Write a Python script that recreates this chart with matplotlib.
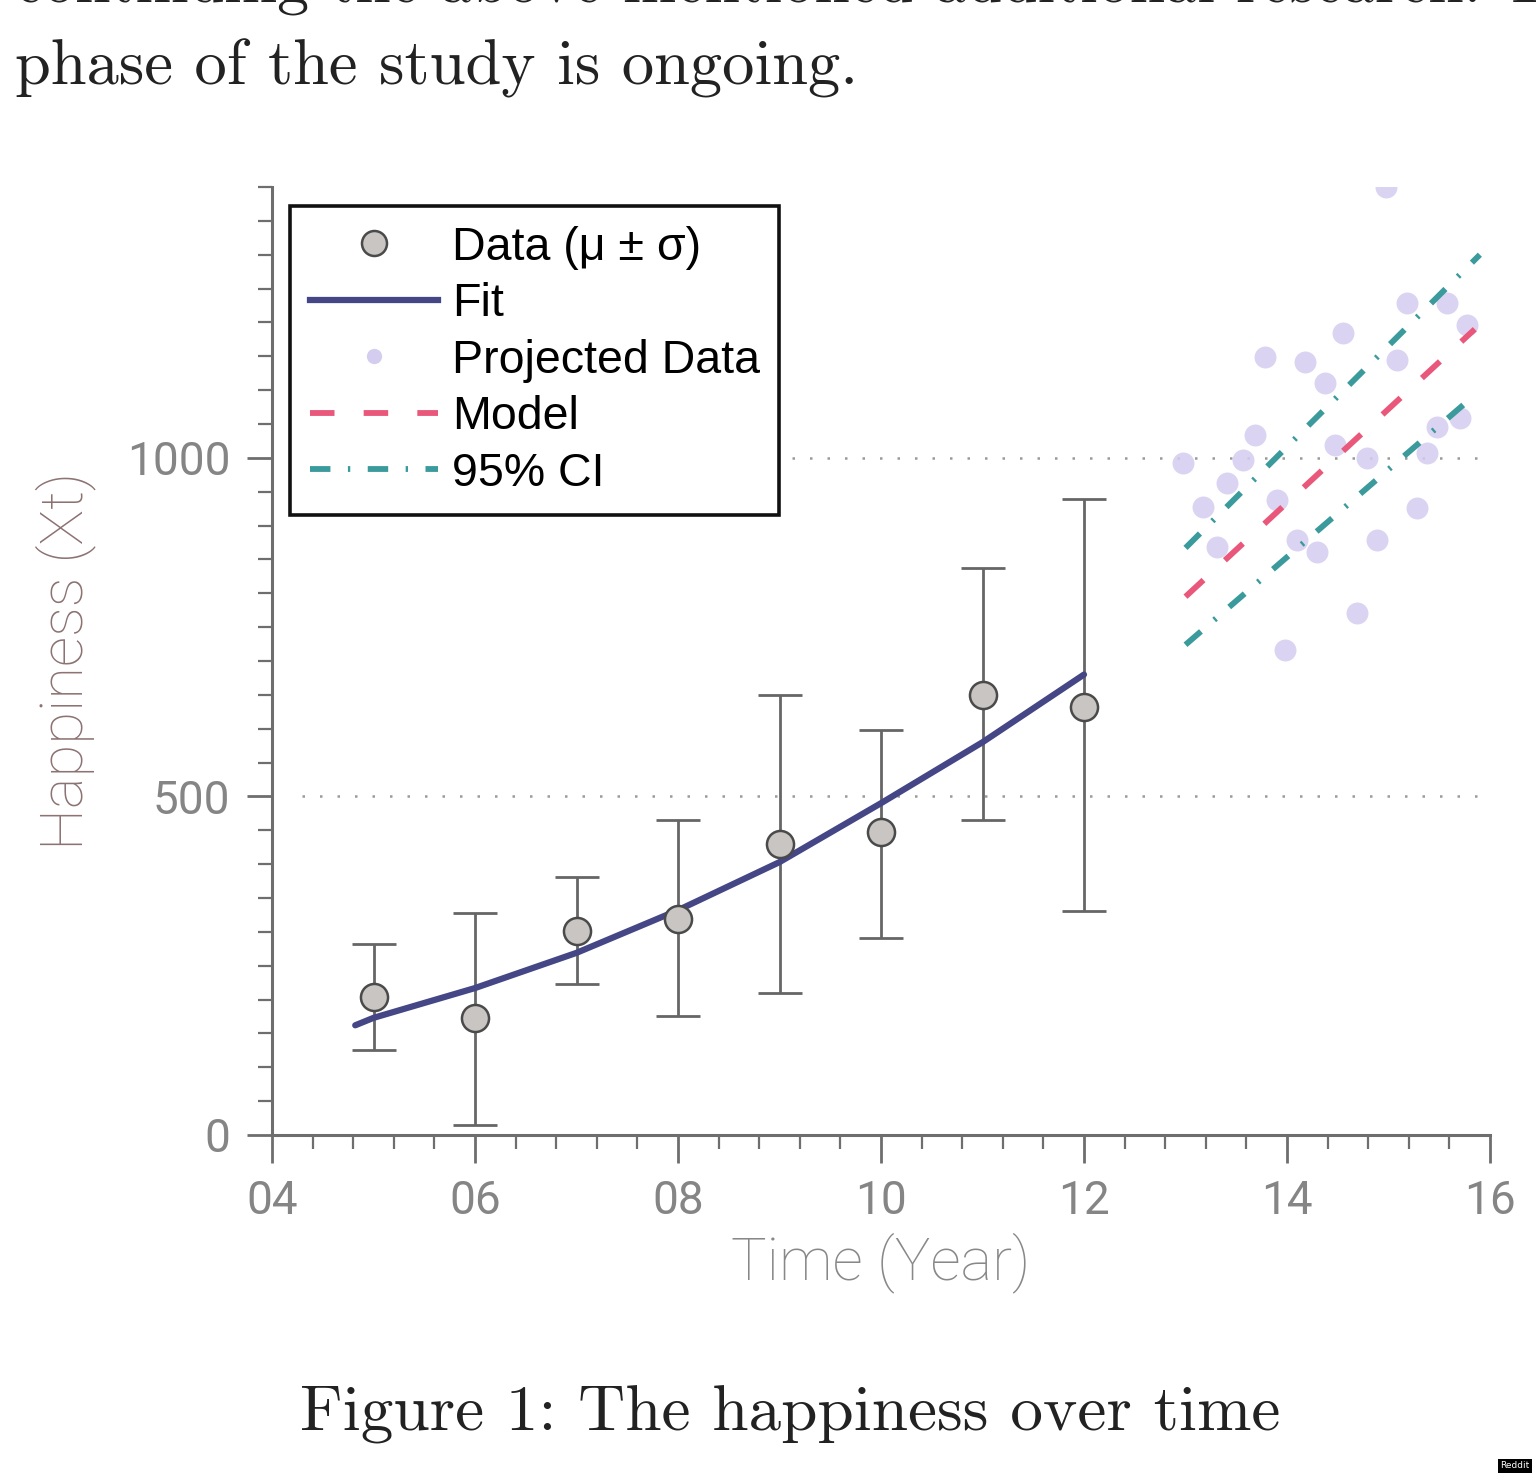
import numpy as np
import matplotlib.pyplot as plt
from matplotlib.ticker import MultipleLocator, FuncFormatter
from matplotlib.lines import Line2D

# measured data (year, mean, mean+sd, mean-sd)
years = [5, 6, 7, 8, 9, 10, 11, 12]
means = [204, 173, 301, 319, 430, 448, 650, 632]
upper = [282, 328, 381, 465, 650, 598, 838, 939]
lower = [126, 15, 223, 176, 210, 291, 465, 331]

# fitted curve
fit_years = [4.82, 5, 6, 7, 8, 9, 10, 11, 12]
fit_vals = [162, 173, 217, 269, 332, 403, 490, 580, 680]

# projected points
proj_years = [14.98, 13.78, 14.18, 14.55, 14.37, 15.18, 15.58, 15.77, 15.08,
              13.68, 14.47, 12.98, 13.57, 14.79, 15.38, 15.48, 15.70, 13.41,
              13.17, 13.90, 15.28, 13.31, 14.10, 14.30, 14.89, 14.69, 13.98]
proj_vals = [1400, 1149, 1142, 1185, 1111, 1229, 1229, 1196, 1145,
             1034, 1019, 993, 997, 1000, 1007, 1046, 1059, 963,
             928, 938, 926, 869, 879, 861, 879, 771, 716]

# model and confidence band
model_years = [13.0, 15.85]
model_vals = [795, 1190]
ci_hi_years = [13.0, 15.9]
ci_hi_vals = [867, 1300]
ci_lo_years = [13.0, 15.82]
ci_lo_vals = [724, 1089]

grid_levels = [500, 1000]

W, H = 1536, 1473
fig = plt.figure(figsize=(W / 100, H / 100), dpi=100)
ax = fig.add_axes([272 / W, 1 - 1135 / H, (1490 - 272) / W, (1135 - 187) / H])

tick_grey = '#858585'
spine_grey = '#6e6e6e'

ax.hlines(grid_levels, 4.3, 15.9, colors='#9a9a9a', linestyles=(0, (1, 6)), lw=1.8, zorder=0)

ax.scatter(proj_years, proj_vals, s=250, color='#d4cdf0', alpha=0.85, lw=0, zorder=1)

ax.plot(model_years, model_vals, color='#e9577a', lw=4.2, dashes=(4.2, 5.0), zorder=2)
ax.plot(ci_hi_years, ci_hi_vals, color='#3b9a9c', lw=4.2, dashes=(3.5, 3, 0.4, 3), zorder=2)
ax.plot(ci_lo_years, ci_lo_vals, color='#3b9a9c', lw=4.2, dashes=(3.5, 3, 0.4, 3), zorder=2)

yerr = [np.array(means) - np.array(lower), np.array(upper) - np.array(means)]
ax.errorbar(years, means, yerr=yerr, fmt='none', ecolor='#666666', elinewidth=2.0,
            capsize=16, capthick=2.0, zorder=3)
ax.plot(fit_years, fit_vals, color='#454685', lw=4.5, solid_capstyle='round', zorder=4)
ax.scatter(years, means, s=380, color='#c9c5c3', edgecolors='#4a4a4a', linewidths=1.8, zorder=5)

ax.set_xlim(4, 16)
ax.set_ylim(0, 1400)
for s in ['top', 'right']:
    ax.spines[s].set_visible(False)
for s in ['left', 'bottom']:
    ax.spines[s].set_color(spine_grey)
    ax.spines[s].set_linewidth(2.2)

ax.xaxis.set_major_locator(MultipleLocator(2))
ax.xaxis.set_minor_locator(MultipleLocator(0.4))
ax.yaxis.set_major_locator(MultipleLocator(500))
ax.yaxis.set_minor_locator(MultipleLocator(50))
ax.xaxis.set_major_formatter(FuncFormatter(lambda v, p: f'{int(round(v)):02d}'))
ax.tick_params(which='major', direction='out', color=spine_grey, width=2, labelcolor=tick_grey,
               labelsize=33)
ax.tick_params(axis='x', which='major', length=20, pad=12)
ax.tick_params(axis='y', which='major', length=18, pad=12)
ax.tick_params(which='minor', direction='out', color=spine_grey, width=1.6, length=10)
for lab in ax.get_xticklabels() + ax.get_yticklabels():
    lab.set_fontfamily('Roboto')

ax.set_xlabel('Time (Year)', fontsize=43, color='#888888', family='Roboto', weight='light', labelpad=6)
ax.set_ylabel('Happiness (Xt)', fontsize=43, color='#8c7272', family='Roboto', weight='light', labelpad=22)

handles = [
    Line2D([], [], ls='none', marker='o', ms=18, mfc='#c9c5c3', mec='#4a4a4a', mew=1.8),
    Line2D([], [], color='#454685', lw=4.5),
    Line2D([], [], ls='none', marker='o', ms=11, mfc='#d4cdf0', mec='none'),
    Line2D([], [], color='#e9577a', lw=4.2, dashes=(4.2, 5.0)),
    Line2D([], [], color='#3b9a9c', lw=4.2, dashes=(3.5, 3, 0.4, 3)),
]
labels = ['Data (\u03bc \u00b1 \u03c3)', 'Fit', 'Projected Data', 'Model', '95% CI']
leg = ax.legend(handles, labels, loc='upper left', bbox_to_anchor=(0.015, 0.98),
                prop={'family': 'Liberation Sans', 'size': 33.5}, handlelength=2.75,
                handletextpad=0.3, labelspacing=0.27, borderpad=0.42, borderaxespad=0,
                fancybox=False, framealpha=1, edgecolor='#111111')
leg.get_frame().set_linewidth(2.6)
leg.set_zorder(10)

fig.text(15 / W, 1 - 3 / H, 'continuing the above mentioned additional research. The',
         family='cmr10', fontsize=46, color='#222222', va='baseline', ha='left')
fig.text(15 / W, 1 - 85 / H, 'phase of the study is ongoing.',
         family='cmr10', fontsize=46.5, color='#222222', va='baseline', ha='left')
fig.text(300 / W, 1 - 1430 / H, 'Figure 1: The happiness over time',
         family='cmr10', fontsize=47, color='#222222', va='baseline', ha='left')
fig.text(1515 / W, 1 - 1466 / H, 'Reddit', fontsize=6.5, color='white', ha='center', va='center',
         family='DejaVu Sans', bbox=dict(facecolor='black', edgecolor='none', pad=1.5))

fig.savefig('out.png', dpi=100)
